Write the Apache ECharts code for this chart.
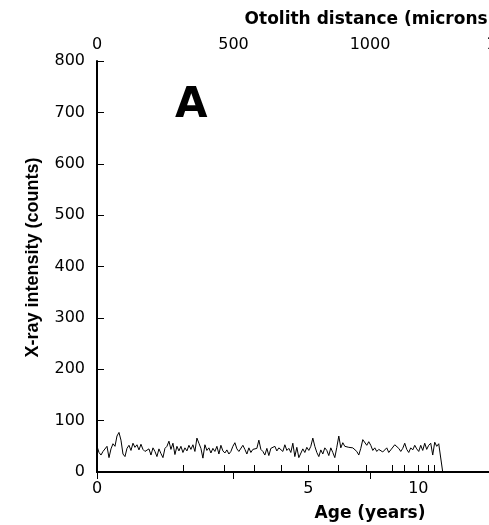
<!DOCTYPE html>
<html><head><meta charset="utf-8">
<style>html,body{margin:0;padding:0;background:#fff}#c{width:489px;height:525px}</style>
<script src="https://cdn.jsdelivr.net/npm/echarts@6/dist/echarts.min.js"></script>
</head><body><div id="c"></div>
<script>
// Otolith distance (microns) between successive samples of the transect
const SAMPLE_STEP_MICRONS = 7.32;
// X-ray intensity (counts) along the transect
const intensityCounts = [
  50,38,33,40,37,50,28,45,55,50,70,77,62,35,30,46,52,42,56,48,53,43,54,44,40,39,45,33,47,40,30,45,36,28,46,
  50,60,44,56,34,50,41,50,38,47,41,52,44,53,40,66,56,46,27,53,42,47,37,46,40,50,35,52,41,37,43,35,40,50,57,
  45,40,38,52,44,35,47,38,44,41,46,62,44,40,33,46,32,46,43,50,41,47,49,40,53,42,46,38,56,30,48,28,30,45,38,
  48,42,50,66,50,38,30,43,35,47,42,32,47,38,28,48,70,47,57,50,52,48,50,47,44,40,33,46,63,60,52,59,52,42,47,
  40,44,43,39,37,47,38,43,41,53,56,46,40,46,56,44,38,47,43,52,45,40,52,42,56,44,52,56,33,58,50,55,52,0
];
// Age annuli (years) and their positions along the otolith (microns)
const ageYears = [0,1,2,3,4,5,6,7,8,9,10,11,12];
const ageTickMicrons = [0,315,467,576,675,774,882,986,1080,1126,1177,1212,1234];
const ageLabelYears = [0,5,10];
// Top axis tick labels (microns)
const distanceTicks = [0,500,1000,1500,2000];
const intensityTicks = [0,100,200,300,400,500,600,700,800];

const ageLabelMicrons = ageLabelYears.map(y => ageTickMicrons[ageYears.indexOf(y)]);
const seriesData = intensityCounts.map((v, i) => [i * SAMPLE_STEP_MICRONS, v]);

const txt = {fontFamily: 'DejaVu Sans', fontSize: 16, color: '#000'};
const nameTxt = {fontFamily: 'DejaVu Sans', fontWeight: 'bold', fontSize: 17, color: '#000'};
const axLine = {show: true, lineStyle: {color: '#000', width: 2}};

const chart = echarts.init(document.getElementById('c'), null, {renderer: 'canvas'});
chart.setOption({
  animation: false,
  backgroundColor: '#fff',
  grid: {left: 97, top: 61, width: 546, height: 411, containLabel: false, outerBoundsMode: 'none'},
  xAxis: [
    {
      type: 'value', position: 'top',
      min: distanceTicks[0], max: distanceTicks[distanceTicks.length - 1], interval: 500,
      name: 'Otolith distance (microns)', nameLocation: 'middle', nameGap: 33, nameTextStyle: nameTxt,
      axisLine: axLine,
      axisTick: {show: true, inside: true, length: 7, lineStyle: {color: '#000', width: 1}},
      axisLabel: Object.assign({margin: 8, formatter: v => String(v)}, txt),
      splitLine: {show: false}
    },
    {
      type: 'value', position: 'bottom',
      min: distanceTicks[0], max: distanceTicks[distanceTicks.length - 1],
      name: 'Age (years)', nameLocation: 'middle', nameGap: 33, nameTextStyle: nameTxt,
      axisLine: axLine,
      axisTick: {show: true, inside: true, length: 7, customValues: ageTickMicrons, lineStyle: {color: '#000', width: 1}},
      axisLabel: Object.assign({margin: 9, customValues: ageLabelMicrons,
        formatter: v => String(ageYears[ageTickMicrons.indexOf(v)])}, txt),
      splitLine: {show: false}
    }
  ],
  yAxis: {
    type: 'value', min: intensityTicks[0], max: intensityTicks[intensityTicks.length - 1], interval: 100,
    name: 'X-ray intensity (counts)', nameLocation: 'middle', nameGap: 55,
    nameTextStyle: {fontFamily: 'Liberation Sans', fontWeight: 'bold', fontSize: 18, color: '#000', padding: [0, 0, 0, 18]},
    axisLine: axLine,
    axisTick: {show: true, inside: true, length: 7, lineStyle: {color: '#000', width: 1}},
    axisLabel: Object.assign({margin: 12, formatter: v => String(v)}, txt),
    splitLine: {show: false}
  },
  series: [{
    type: 'line', xAxisIndex: 0, yAxisIndex: 0,
    data: seriesData, symbol: 'none', showSymbol: false,
    lineStyle: {color: '#000', width: 1}
  }],
  graphic: [{
    type: 'text', left: 175, top: 85,
    style: {text: 'A', font: 'bold 42px "DejaVu Sans"', fill: '#000'}
  }]
});
</script></body></html>
